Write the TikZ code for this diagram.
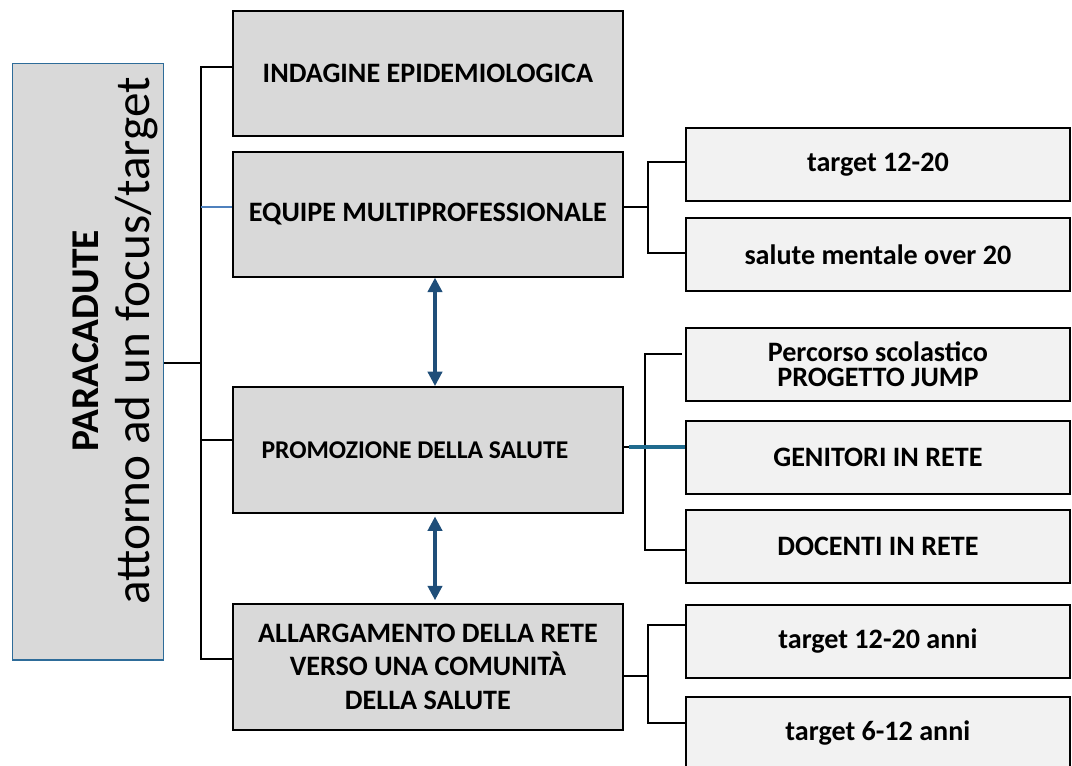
\documentclass[tikz,border=0pt]{standalone}
\usepackage{fontspec}
\setmainfont{Carlito}
\usepackage{tikz}
\usetikzlibrary{arrows.meta, positioning, calc}

\definecolor{boxgray}{HTML}{D9D9D9}
\definecolor{subgray}{HTML}{F2F2F2}
\definecolor{framebl}{HTML}{2E6C99}
\definecolor{arrowbl}{HTML}{1F4E79}
\definecolor{linkbl}{HTML}{4F81BD}
\definecolor{linkteal}{HTML}{1F6B8E}

\begin{document}
\begin{tikzpicture}[%
  x=0.025cm, y=-0.025cm,
  every node/.style={align=center, inner sep=0pt},
  mainbox/.style={draw, fill=boxgray, line width=1.2pt, anchor=north west, minimum width=9.75cm, minimum height=3.125cm, font=\fontsize{20}{24}\selectfont\bfseries},
  subbox/.style={draw, fill=subgray, line width=1.2pt, anchor=north west, minimum width=9.6cm, minimum height=1.825cm, font=\fontsize{20}{17.5}\selectfont\bfseries},
  sidebox/.style={draw=framebl, fill=boxgray, line width=1pt, anchor=north west, minimum width=3.775cm, minimum height=14.9cm},
  conn/.style={line width=1.4pt},
  link/.style={line width=1pt, linkbl},
  tlink/.style={line width=2.2pt, linkteal},
  darr/.style={{Triangle[length=3.6mm, width=3.6mm]}-{Triangle[length=3.6mm, width=3.6mm]}, line width=2.2pt, arrowbl}
]
\useasboundingbox (0,0) rectangle (1072,765);
\clip (0,0) rectangle (1072,765);

% 1. Focus box
\node[sidebox] (para) at (12,63) {};
\node[rotate=90, font=\fontsize{35}{36}\selectfont] (paratxt) at ($(para.center)+(27,-21)$) {{\fontsize{28}{30}\selectfont\bfseries PARACADUTE}\\attorno ad un focus/target};

% 2. Main blocks
\node[mainbox] (b1) at (232,10) {INDAGINE EPIDEMIOLOGICA};
\node[mainbox] (b2) at (232,151) {EQUIPE MULTIPROFESSIONALE};
\node[mainbox, minimum height=3.15cm, font=\fontsize{18.2}{22}\selectfont\bfseries] (b3) at (232,386) {PROMOZIONE DELLA SALUTE\hspace*{0.65cm}};
\node[mainbox, minimum height=3.15cm] (b4) at (232,603) {ALLARGAMENTO DELLA RETE\\VERSO UNA COMUNITÀ\\DELLA SALUTE};

% 3. Sub blocks
\node[subbox] (r1) at (685,127) {target 12-20};
\node[subbox] (r2) at (685,217) {salute mentale over 20};
\node[subbox] (r3) at (685,327) {Percorso scolastico\\PROGETTO JUMP};
\node[subbox] (r4) at (685,420) {GENITORI IN RETE};
\node[subbox] (r5) at (685,509) {DOCENTI IN RETE};
\node[subbox] (r6) at (685,604) {target 12-20 anni};
\node[subbox] (r7) at (685,696) {target 6-12 anni};

% 4. Trunk
\coordinate (trunk) at (201,0);
\coordinate (p0) at ($(para.north east)+(0,300)$);
\coordinate (p1) at ($(b1.north west)+(0,57)$);
\coordinate (p2) at ($(b2.north west)+(0,56)$);
\coordinate (p3) at ($(b3.north west)+(0,54)$);
\coordinate (p4) at ($(b4.north west)+(0,56)$);
\draw[conn] (p0) -- (p0 -| trunk);
\draw[conn] (p1) -| (p4 -| trunk) -- (p4);
\draw[conn] (p3 -| trunk) -- (p3);
\draw[link] (p2 -| trunk) -- (p2);

% 5. Links between main blocks
\draw[darr] ($(b2.south west)+(203,0)$) -- ($(b3.north west)+(203,0)$);
\draw[darr, shorten <=2pt, shorten >=2pt] ($(b3.south west)+(203,0)$) -- ($(b4.north west)+(203,0)$);

% 6. Branches to sub blocks
\coordinate (fork2) at (648,0);
\coordinate (q2) at ($(b2.north east)+(0,56)$);
\coordinate (s1) at ($(r1.north west)+(0,35)$);
\coordinate (s2) at ($(r2.north west)+(0,36)$);
\draw[conn] (q2) -- (q2 -| fork2);
\draw[conn] (s1) -| (s2 -| fork2) -- (s2);

\coordinate (fork3) at (645,0);
\coordinate (q3) at ($(b3.north east)+(0,61)$);
\coordinate (s3) at ($(r3.north west)+(-3,27)$);
\coordinate (s5) at ($(r5.north west)+(0,41)$);
\draw[conn] (q3) -- (q3 -| fork3);
\draw[conn] (s3) -| (s5 -| fork3) -- (s5);
\draw[tlink] ($(q3)+(5,0)$) -- (q3 -| r4.west);

\coordinate (fork4) at (648,0);
\coordinate (q4) at ($(b4.north east)+(0,73)$);
\coordinate (s6) at ($(r6.north west)+(0,21)$);
\coordinate (s7) at ($(r7.north west)+(0,27)$);
\draw[conn] (q4) -- (q4 -| fork4);
\draw[conn] (s6) -| (s7 -| fork4) -- (s7);

\end{tikzpicture}
\end{document}
